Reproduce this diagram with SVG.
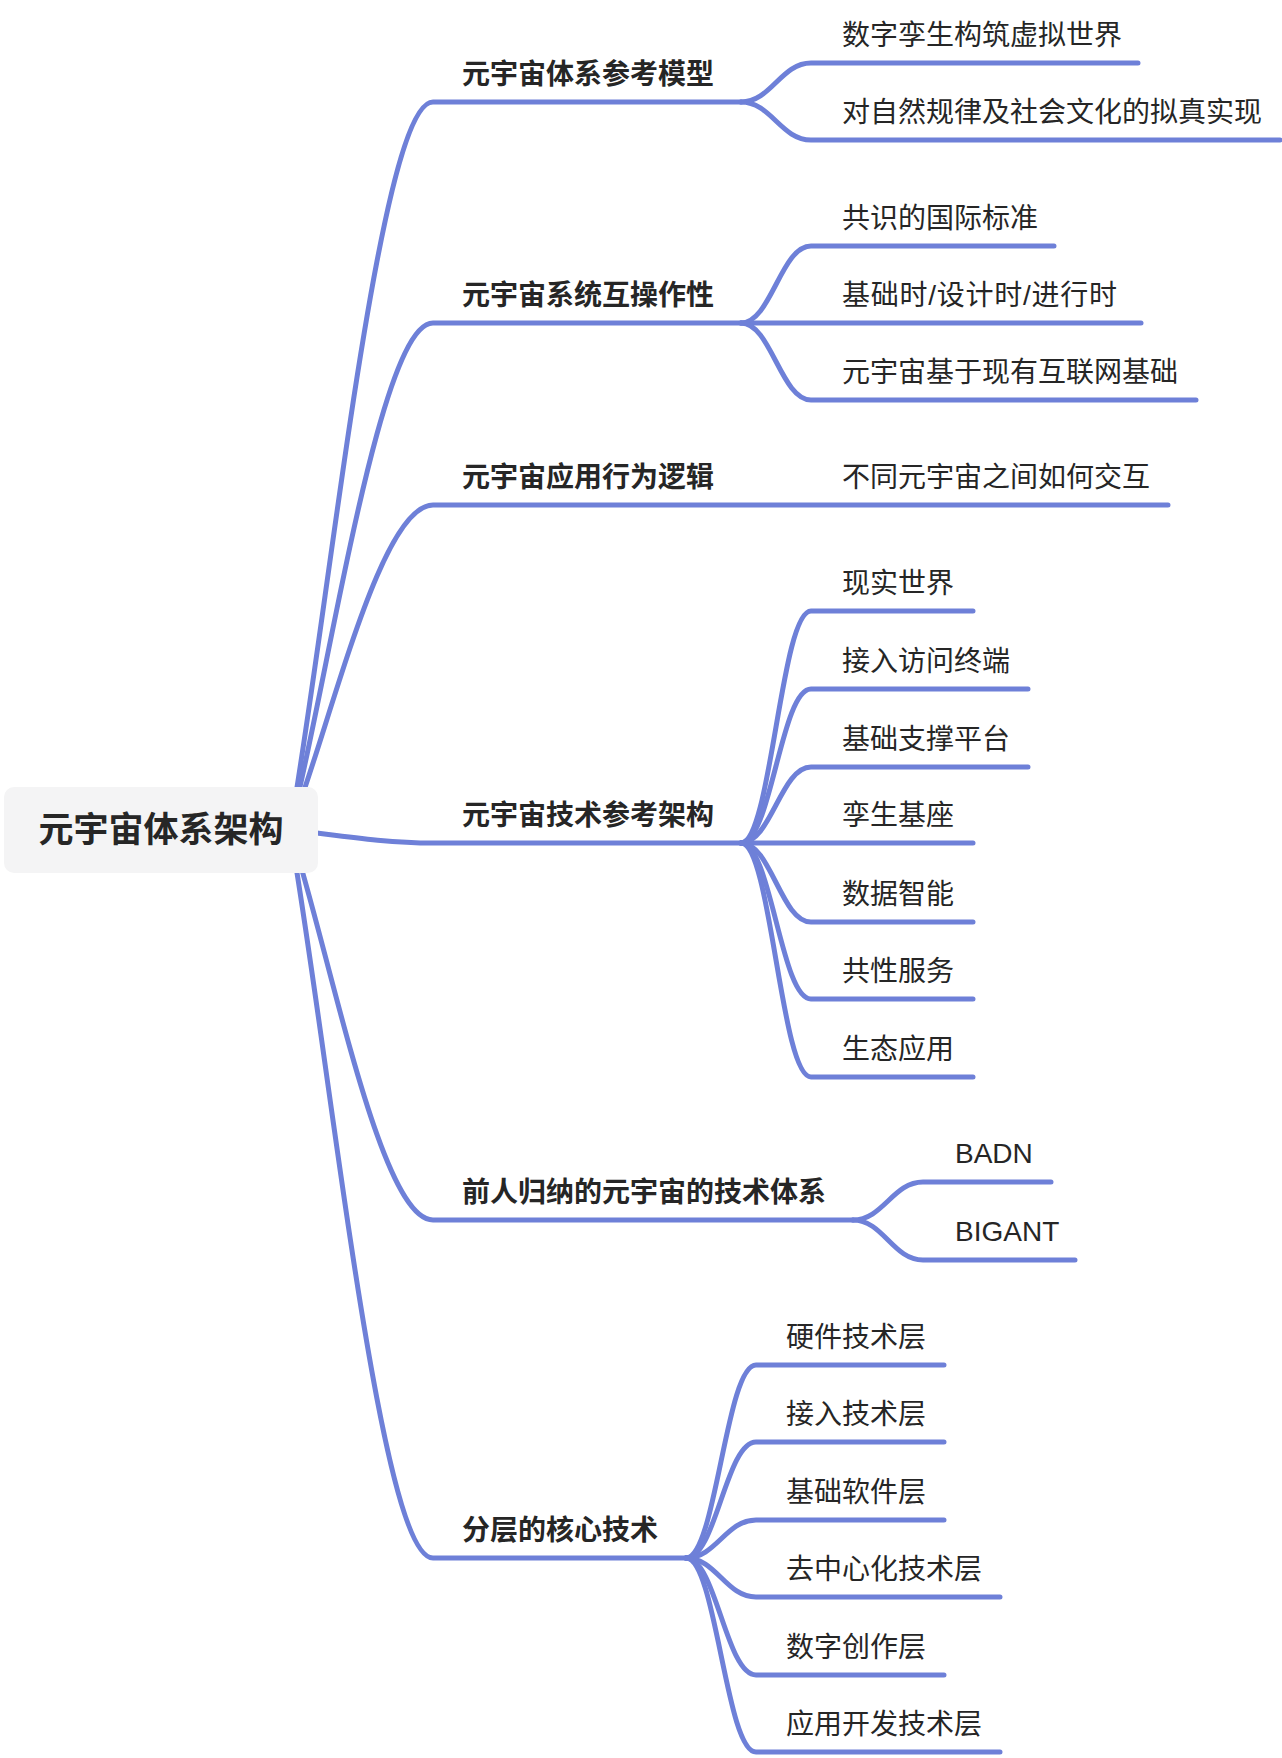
<svg xmlns="http://www.w3.org/2000/svg" width="1282" height="1758" viewBox="0 0 1282 1758">
<style>
.c{fill:none;stroke:#6e80d8;stroke-width:5;stroke-linecap:round;stroke-linejoin:round}
.t{font-family:"Liberation Sans","Noto Sans CJK SC",sans-serif;font-size:28px;fill:#262626}
.b{font-family:"Noto Sans CJK SC","Liberation Sans",sans-serif;font-size:28px;font-weight:700;fill:#262626}
.r{font-family:"Noto Sans CJK SC","Liberation Sans",sans-serif;font-size:35px;font-weight:700;fill:#262626}
</style>
<rect width="1282" height="1758" fill="#ffffff"/>
<g id="connectors">
  <path class="c" d="M290 830 C330 600 380 102 433 102 H741"/>
  <path class="c" d="M290 830 C330 670 380 323 433 323 H741"/>
  <path class="c" d="M290 830 C330 727 380 505 433 505 H1168"/>
  <path class="c" d="M290 830 C330 834 380 843 433 843 H741"/>
  <path class="c" d="M290 830 C330 953 380 1220 433 1220 H853"/>
  <path class="c" d="M290 830 C330 1060 380 1558 433 1558 H686"/>
  <path class="c" d="M741 102 C771 102 781 63 811 63 H1138"/>
  <path class="c" d="M741 102 C771 102 781 140 811 140 H1280"/>
  <path class="c" d="M741 323 C771 323 781 246 811 246 H1054"/>
  <path class="c" d="M741 323 H1141"/>
  <path class="c" d="M741 323 C771 323 781 400 811 400 H1196"/>
  <path class="c" d="M741 843 C771 843 781 611 811 611 H973"/>
  <path class="c" d="M741 843 C771 843 781 689 811 689 H1028"/>
  <path class="c" d="M741 843 C771 843 781 767 811 767 H1028"/>
  <path class="c" d="M741 843 H973"/>
  <path class="c" d="M741 843 C771 843 781 922 811 922 H973"/>
  <path class="c" d="M741 843 C771 843 781 999 811 999 H973"/>
  <path class="c" d="M741 843 C771 843 781 1077 811 1077 H973"/>
  <path class="c" d="M853 1220 C883 1220 893 1182 923 1182 H1051"/>
  <path class="c" d="M853 1220 C883 1220 893 1260 923 1260 H1075"/>
  <path class="c" d="M686 1558 C716 1558 726 1365 756 1365 H944"/>
  <path class="c" d="M686 1558 C716 1558 726 1442 756 1442 H944"/>
  <path class="c" d="M686 1558 C716 1558 726 1520 756 1520 H944"/>
  <path class="c" d="M686 1558 C716 1558 726 1597 756 1597 H1000"/>
  <path class="c" d="M686 1558 C716 1558 726 1675 756 1675 H944"/>
  <path class="c" d="M686 1558 C716 1558 726 1752 756 1752 H1000"/>
</g>
<g id="root">
  <rect x="4" y="787" width="314" height="86" rx="10" fill="#f4f4f5"/>
  <text class="r" x="161" y="842" text-anchor="middle">元宇宙体系架构</text>
</g>
<g id="n1"><text class="b" x="462" y="83.5">元宇宙体系参考模型</text></g>
<g id="n1a"><text class="t" x="842" y="44.5">数字孪生构筑虚拟世界</text></g>
<g id="n1b"><text class="t" x="842" y="121.5">对自然规律及社会文化的拟真实现</text></g>
<g id="n2"><text class="b" x="462" y="304.5">元宇宙系统互操作性</text></g>
<g id="n2a"><text class="t" x="842" y="227.5">共识的国际标准</text></g>
<g id="n2b"><text class="t" x="842" y="304.5" textLength="275" lengthAdjust="spacing">基础时/设计时/进行时</text></g>
<g id="n2c"><text class="t" x="842" y="381.5">元宇宙基于现有互联网基础</text></g>
<g id="n3"><text class="b" x="462" y="486.5">元宇宙应用行为逻辑</text></g>
<g id="n3a"><text class="t" x="842" y="486.5">不同元宇宙之间如何交互</text></g>
<g id="n4"><text class="b" x="462" y="824.5">元宇宙技术参考架构</text></g>
<g id="n4a"><text class="t" x="842" y="592.5">现实世界</text></g>
<g id="n4b"><text class="t" x="842" y="670.5">接入访问终端</text></g>
<g id="n4c"><text class="t" x="842" y="748.5">基础支撑平台</text></g>
<g id="n4d"><text class="t" x="842" y="824.5">孪生基座</text></g>
<g id="n4e"><text class="t" x="842" y="903.5">数据智能</text></g>
<g id="n4f"><text class="t" x="842" y="980.5">共性服务</text></g>
<g id="n4g"><text class="t" x="842" y="1058.5">生态应用</text></g>
<g id="n5"><text class="b" x="462" y="1201.5">前人归纳的元宇宙的技术体系</text></g>
<g id="n5a"><text class="t" x="955" y="1162.5">BADN</text></g>
<g id="n5b"><text class="t" x="955" y="1240.5">BIGANT</text></g>
<g id="n6"><text class="b" x="462" y="1539.5">分层的核心技术</text></g>
<g id="n6a"><text class="t" x="786" y="1346.5">硬件技术层</text></g>
<g id="n6b"><text class="t" x="786" y="1423.5">接入技术层</text></g>
<g id="n6c"><text class="t" x="786" y="1501.5">基础软件层</text></g>
<g id="n6d"><text class="t" x="786" y="1578.5">去中心化技术层</text></g>
<g id="n6e"><text class="t" x="786" y="1656.5">数字创作层</text></g>
<g id="n6f"><text class="t" x="786" y="1733.5">应用开发技术层</text></g>
</svg>
